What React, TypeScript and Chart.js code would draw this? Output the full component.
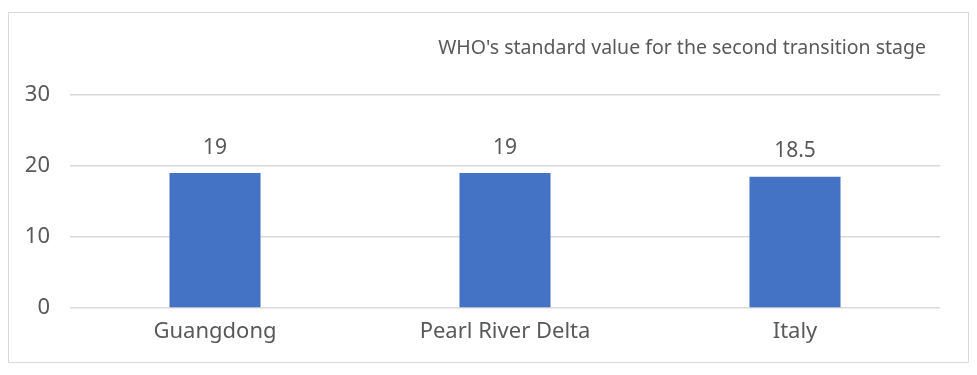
import React, { useEffect, useRef } from "react";
import { Chart, registerables } from "chart.js";

Chart.register(...registerables);

const categories = ["Guangdong", "Pearl River Delta", "Italy"];
const values = [19, 19, 18.5];
const yTicks = [0, 10, 20, 30];
const titleText = "WHO's standard value for the second transition stage";

const FONT = "'Noto Sans', 'DejaVu Sans', sans-serif";
const TEXT = "#595959";

const labelPlugin = {
  id: "valueLabels",
  afterDatasetsDraw(chart: any) {
    const { ctx } = chart;
    const meta = chart.getDatasetMeta(0);
    ctx.save();
    ctx.font = `21px ${FONT}`;
    ctx.fillStyle = TEXT;
    ctx.textAlign = "center";
    ctx.textBaseline = "bottom";
    meta.data.forEach((bar: any, i: number) => {
      ctx.fillText(String(values[i]), bar.x, bar.y - 15);
    });
    ctx.restore();
  },
};

const titlePlugin = {
  id: "rightTitle",
  afterDraw(chart: any) {
    const { ctx, chartArea } = chart;
    ctx.save();
    ctx.font = `19.5px ${FONT}`;
    ctx.fillStyle = TEXT;
    ctx.textAlign = "right";
    ctx.textBaseline = "middle";
    ctx.fillText(titleText, chartArea.right - 14, 35);
    ctx.restore();
  },
};

export default function App() {
  const ref = useRef<HTMLCanvasElement | null>(null);
  useEffect(() => {
    if (!ref.current) return;
    const chart = new Chart(ref.current, {
      type: "bar",
      data: {
        labels: categories,
        datasets: [
          {
            data: values,
            backgroundColor: "#4472C4",
            barPercentage: 0.314,
            categoryPercentage: 1,
          },
        ],
      },
      options: {
        animation: false,
        responsive: false,
        layout: { padding: { top: 82, right: 28, left: 0, bottom: 0 } },
        plugins: {
          legend: { display: false },
          tooltip: { enabled: false },
          title: { display: false },
        },
        scales: {
          x: {
            grid: { display: false, drawTicks: false },
            border: { display: false },
            ticks: { color: TEXT, font: { family: FONT, size: 22 }, padding: 11 },
            afterFit: (s: any) => {
              s.height = 54;
            },
          },
          y: {
            min: yTicks[0],
            max: yTicks[yTicks.length - 1],
            ticks: {
              stepSize: 10,
              color: TEXT,
              font: { family: FONT, size: 22 },
              padding: 20,
            },
            grid: { color: "#d9d9d9", lineWidth: 1.5, drawTicks: false },
            border: { display: false },
            afterFit: (s: any) => {
              s.width = 61;
            },
          },
        },
      },
      plugins: [labelPlugin, titlePlugin],
    });
    return () => chart.destroy();
  }, []);

  return (
    <div
      style={{
        position: "absolute",
        left: 8,
        top: 12,
        width: 961,
        height: 351,
        boxSizing: "border-box",
        border: "1px solid #d9d9d9",
        background: "#fff",
      }}
    >
      <canvas ref={ref} width={959} height={349} style={{ display: "block" }} />
    </div>
  );
}
